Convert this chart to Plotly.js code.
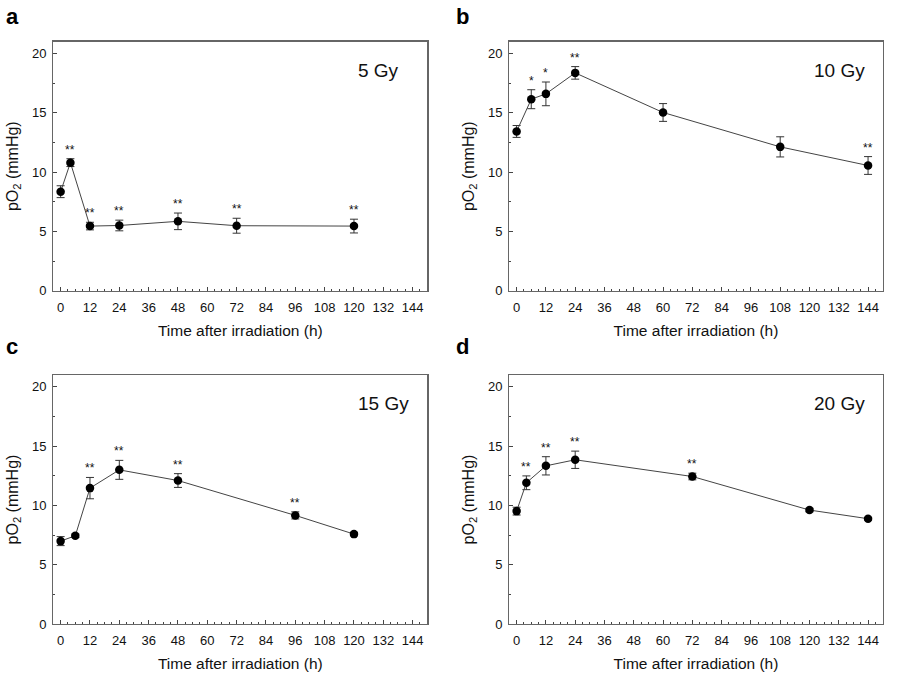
<!DOCTYPE html>
<html>
<head>
<meta charset="utf-8">
<script src="https://cdn.plot.ly/plotly-3.0.1.min.js"></script>
<style>html,body{margin:0;padding:0;background:#fff;}#chart{width:900px;height:674px;}</style>
</head>
<body>
<div id="chart"></div>
<script>
// Panel a: 5 Gy
const xA = [0, 4, 12, 24, 48, 72, 120];
const yA = [8.35, 10.8, 5.45, 5.5, 5.85, 5.48, 5.45];
const eA = [0.5, 0.33, 0.32, 0.45, 0.7, 0.63, 0.58];
const sA = ['', '**', '**', '**', '**', '**', '**'];
// Panel b: 10 Gy
const xB = [0, 6, 12, 24, 60, 108, 144];
const yB = [13.43, 16.15, 16.6, 18.37, 15.03, 12.13, 10.56];
const eB = [0.5, 0.8, 1.0, 0.53, 0.75, 0.85, 0.75];
const sB = ['', '*', '*', '**', '', '', '**'];
// Panel c: 15 Gy
const xC = [0, 6, 12, 24, 48, 96, 120];
const yC = [6.99, 7.44, 11.46, 13.0, 12.1, 9.16, 7.58];
const eC = [0.38, 0.15, 0.9, 0.8, 0.58, 0.3, 0.15];
const sC = ['', '', '**', '**', '**', '**', ''];
// Panel d: 20 Gy
const xD = [0, 4, 12, 24, 72, 120, 144];
const yD = [9.52, 11.91, 13.34, 13.85, 12.44, 9.61, 8.88];
const eD = [0.33, 0.58, 0.77, 0.73, 0.28, 0.15, 0.1];
const sD = ['', '**', '**', '**', '**', '', ''];

const doseLabels = ['5 Gy', '10 Gy', '15 Gy', '20 Gy'];
const panelLetters = ['a', 'b', 'c', 'd'];
const xTicks = [0, 12, 24, 36, 48, 60, 72, 84, 96, 108, 120, 132, 144];
const xTitle = 'Time after irradiation (h)';
const yTitle = 'pO<sub>2</sub> (mmHg)';

const panels = [
  {x: xA, y: yA, e: eA, s: sA},
  {x: xB, y: yB, e: eB, s: sB},
  {x: xC, y: yC, e: eC, s: sC},
  {x: xD, y: yD, e: eD, s: sD}
];

const W = 900, H = 674;
const boxes = [
  {l: 53.3, r: 427.3, t: 41.7, b: 290.7},
  {l: 509.3, r: 882.7, t: 41.7, b: 290.7},
  {l: 53.3, r: 427.3, t: 375, b: 624},
  {l: 509.3, r: 882.7, t: 375, b: 624}
];
const letterPos = [[12, 16], [462, 16], [12, 347], [462, 347]];
const dosePos = [[356, 70], [812, 70], [356, 403], [812, 403]];

const font = 'Liberation Sans, Arial, Helvetica, sans-serif';
const traces = [];
const annotations = [];
const layout = {
  width: W, height: H,
  margin: {l: 0, r: 0, t: 0, b: 0},
  paper_bgcolor: '#fff', plot_bgcolor: '#fff',
  showlegend: false,
  font: {family: font, color: '#111'},
  annotations: annotations
};

panels.forEach((p, i) => {
  const k = i === 0 ? '' : String(i + 1);
  const bx = boxes[i];
  traces.push({
    type: 'scatter', mode: 'lines+markers',
    x: p.x, y: p.y,
    xaxis: 'x' + k, yaxis: 'y' + k,
    line: {color: '#444', width: 1},
    marker: {color: '#000', size: 8.5},
    error_y: {type: 'data', array: p.e, visible: true, color: '#333', thickness: 1, width: 4},
    cliponaxis: false,
    hoverinfo: 'skip'
  });
  layout['xaxis' + k] = {
    domain: [bx.l / W, bx.r / W],
    anchor: 'y' + k,
    range: [-3, 150],
    tickvals: xTicks,
    ticks: 'inside', ticklen: 4, tickwidth: 1, tickcolor: '#444',
    minor: {ticks: 'inside', ticklen: 2, dtick: 3, tick0: 0, tickcolor: '#444', showgrid: false},
    showline: true, linecolor: '#666', linewidth: 1.3, mirror: true,
    showgrid: false, zeroline: false,
    tickfont: {family: font, size: 13, color: '#111'},
    ticklabelstandoff: 4,
    title: {text: xTitle, font: {family: font, size: 15.5, color: '#111'}, standoff: 11}
  };
  layout['yaxis' + k] = {
    domain: [1 - bx.b / H, 1 - bx.t / H],
    anchor: 'x' + k,
    range: [0, 21],
    tickvals: [0, 5, 10, 15, 20],
    ticks: 'inside', ticklen: 4, tickwidth: 1, tickcolor: '#444',
    minor: {ticks: 'inside', ticklen: 2, dtick: 2.5, tick0: 0, tickcolor: '#444', showgrid: false},
    showline: true, linecolor: '#666', linewidth: 1.3, mirror: true,
    showgrid: false, zeroline: false,
    tickfont: {family: font, size: 13, color: '#111'},
    ticklabelstandoff: 3,
    title: {text: yTitle, font: {family: font, size: 16, color: '#111'}, standoff: 9}
  };
  p.s.forEach((st, j) => {
    if (!st) return;
    annotations.push({
      xref: 'x' + k, yref: 'y' + k,
      x: p.x[j], y: p.y[j] + p.e[j],
      text: st, showarrow: false,
      xanchor: 'center', yanchor: 'bottom', yshift: 0,
      font: {family: font, size: 12, color: '#111'}
    });
  });
  annotations.push({
    xref: 'paper', yref: 'paper',
    x: letterPos[i][0] / W, y: 1 - letterPos[i][1] / H,
    text: '<b>' + panelLetters[i] + '</b>', showarrow: false,
    xanchor: 'center', yanchor: 'middle',
    font: {family: font, size: 22, color: '#000'}
  });
  annotations.push({
    xref: 'paper', yref: 'paper',
    x: dosePos[i][0] / W, y: 1 - dosePos[i][1] / H,
    text: doseLabels[i], showarrow: false,
    xanchor: 'left', yanchor: 'middle',
    font: {family: font, size: 19, color: '#111'}
  });
});

Plotly.newPlot('chart', traces, layout, {displayModeBar: false, staticPlot: true});
</script>
</body>
</html>
